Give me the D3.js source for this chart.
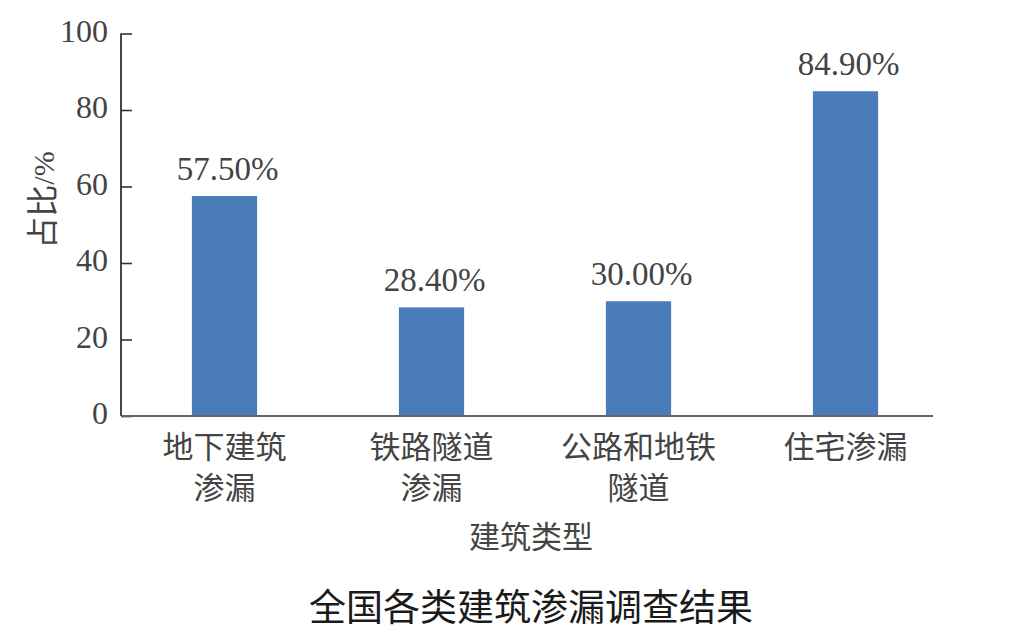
<!DOCTYPE html>
<html>
<head>
<meta charset="utf-8">
<script src="https://cdn.jsdelivr.net/npm/d3@7"></script>
<style>
  html,body{margin:0;padding:0;background:#fff;}
  svg{display:block;}
  .tick-label{font-family:"Liberation Serif","Times New Roman",serif;fill:#444;}
  .cjk{font-family:"Noto Sans CJK SC","Noto Sans",sans-serif;}
</style>
</head>
<body>
<svg id="chart" width="1024" height="638"></svg>
<script>
// 数据：各类建筑渗漏占比
const categories = ['地下建筑渗漏','铁路隧道渗漏','公路和地铁隧道','住宅渗漏'];
const labelLines = [['地下建筑','渗漏'],['铁路隧道','渗漏'],['公路和地铁','隧道'],['住宅渗漏']];
const values = [57.5, 28.4, 30.0, 84.9];
const valueLabels = ['57.50%','28.40%','30.00%','84.90%'];
const yTicks = [0, 20, 40, 60, 80, 100];

const svg = d3.select('#chart');
const x0 = 121, x1 = 949, axisEnd = 933;
const yTop = 33.5, yBottom = 416;

const x = d3.scaleBand().domain(categories).range([x0, x1])
  .paddingInner(0.685).paddingOuter(0.3425);
const y = d3.scaleLinear().domain([0, 100]).range([yBottom, yTop]);

// 柱子
svg.append('g').selectAll('rect').data(values).enter()
  .append('rect')
  .attr('x', (d,i)=>x(categories[i]))
  .attr('y', d=>y(d))
  .attr('width', x.bandwidth())
  .attr('height', d=>yBottom - y(d))
  .attr('fill', '#4a7bba');

// 数值标签
svg.append('g').selectAll('text').data(values).enter()
  .append('text').attr('class','tick-label')
  .attr('x', (d,i)=>x(categories[i]) + x.bandwidth()/2 + 3)
  .attr('y', d=>y(d) - 16)
  .attr('text-anchor','middle')
  .style('font-size','33px')
  .text((d,i)=>valueLabels[i]);

// y 轴（刻度向内）
const yAxis = svg.append('g').attr('transform',`translate(${x0},0)`)
  .call(d3.axisRight(y).tickValues(yTicks).tickSize(11).tickFormat(''));
yAxis.select('.domain').remove();
yAxis.selectAll('.tick line').attr('stroke','#333').attr('stroke-width',1.6);
svg.append('line').attr('x1',x0).attr('x2',x0).attr('y1',yTop).attr('y2',yBottom)
  .attr('stroke','#333').attr('stroke-width',1.8);

svg.append('g').selectAll('text').data(yTicks).enter()
  .append('text').attr('class','tick-label')
  .attr('x', 108).attr('y', d=>y(d) + 8)
  .attr('text-anchor','end')
  .style('font-size','32px')
  .text(d=>d);

// x 轴
svg.append('line').attr('x1',x0).attr('x2',axisEnd).attr('y1',yBottom).attr('y2',yBottom)
  .attr('stroke','#666').attr('stroke-width',1.8);

// 类别标签
const cat = svg.append('g').selectAll('text').data(categories).enter()
  .append('text').attr('class','cjk')
  .attr('text-anchor','middle')
  .attr('fill','#444')
  .style('font-size','31px');
cat.each(function(d,i){
  const t = d3.select(this);
  labelLines[i].forEach((line,k)=>{
    t.append('tspan').attr('x', x(d) + x.bandwidth()/2)
      .attr('y', 458 + k*41).text(line);
  });
});

// 轴标题
svg.append('text').attr('class','cjk')
  .attr('x', 531).attr('y', 548)
  .attr('text-anchor','middle').attr('fill','#444')
  .style('font-size','31px').text('建筑类型');

const yt = svg.append('text')
  .attr('transform','translate(54,200) rotate(-90)')
  .attr('text-anchor','middle').attr('fill','#444');
yt.append('tspan').attr('class','cjk').style('font-size','32px').text('占比');
yt.append('tspan').attr('class','tick-label').style('font-size','30px').text('/%');

// 图题
svg.append('text').attr('class','cjk')
  .attr('x', 531).attr('y', 621)
  .attr('text-anchor','middle').attr('fill','#1a1a1a')
  .style('font-size','37px').style('font-weight','400')
  .text('全国各类建筑渗漏调查结果');
</script>
</body>
</html>
